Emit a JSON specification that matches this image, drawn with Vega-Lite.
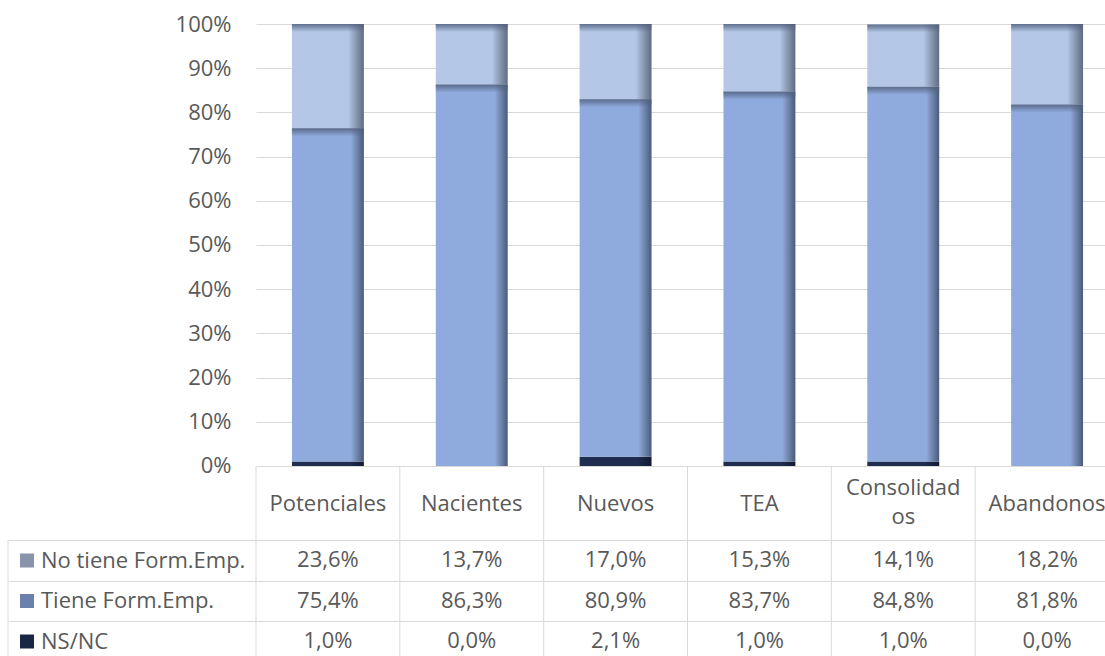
{
  "$schema": "https://vega.github.io/schema/vega-lite/v6.json",
  "width": 849,
  "height": 632,
  "autosize": "none",
  "padding": {"left": 256, "top": 24, "right": 0, "bottom": 0},
  "background": "white",
  "config": {"view": {"stroke": null}, "font": "Open Sans"},
  "data": {
    "values": [
      {"cat": "Potenciales", "serie": "No tiene Form.Emp.", "valor": 23.6},
      {"cat": "Potenciales", "serie": "Tiene Form.Emp.", "valor": 75.4},
      {"cat": "Potenciales", "serie": "NS/NC", "valor": 1.0},
      {"cat": "Nacientes", "serie": "No tiene Form.Emp.", "valor": 13.7},
      {"cat": "Nacientes", "serie": "Tiene Form.Emp.", "valor": 86.3},
      {"cat": "Nacientes", "serie": "NS/NC", "valor": 0.0},
      {"cat": "Nuevos", "serie": "No tiene Form.Emp.", "valor": 17.0},
      {"cat": "Nuevos", "serie": "Tiene Form.Emp.", "valor": 80.9},
      {"cat": "Nuevos", "serie": "NS/NC", "valor": 2.1},
      {"cat": "TEA", "serie": "No tiene Form.Emp.", "valor": 15.3},
      {"cat": "TEA", "serie": "Tiene Form.Emp.", "valor": 83.7},
      {"cat": "TEA", "serie": "NS/NC", "valor": 1.0},
      {"cat": "Consolidados", "serie": "No tiene Form.Emp.", "valor": 14.1},
      {"cat": "Consolidados", "serie": "Tiene Form.Emp.", "valor": 84.8},
      {"cat": "Consolidados", "serie": "NS/NC", "valor": 1.0},
      {"cat": "Abandonos", "serie": "No tiene Form.Emp.", "valor": 18.2},
      {"cat": "Abandonos", "serie": "Tiene Form.Emp.", "valor": 81.8},
      {"cat": "Abandonos", "serie": "NS/NC", "valor": 0.0}
    ]
  },
  "transform": [
    {"calculate": "indexof(['NS/NC','Tiene Form.Emp.','No tiene Form.Emp.'], datum.serie)", "as": "orden"},
    {"stack": "valor", "groupby": ["cat"], "sort": [{"field": "orden", "order": "ascending"}], "as": ["v0", "v1"]},
    {"calculate": "replace(format(datum.valor, '.1f'), '.', ',') + '%'", "as": "etiqueta"},
    {"calculate": "datum.cat === 'Consolidados' ? ['Consolidad', 'os'] : datum.cat", "as": "encab"}
  ],
  "encoding": {
    "x": {
      "field": "cat",
      "type": "nominal",
      "scale": {"domain": ["Potenciales", "Nacientes", "Nuevos", "TEA", "Consolidados", "Abandonos"], "range": [0, 863], "paddingInner": 0, "paddingOuter": 0},
      "axis": null
    }
  },
  "layer": [
    {
      "transform": [{"filter": "datum.serie === 'NS/NC'"}],
      "mark": {"type": "bar", "width": {"band": 0.5}, "color": {"gradient": "linear", "x1": 0, "y1": 0, "x2": 1, "y2": 0, "stops": [{"offset": 0, "color": "#1f2d50"}, {"offset": 0.8, "color": "#1f2d50"}, {"offset": 1, "color": "#111a30"}]}},
      "encoding": {
        "y": {
          "field": "v1", "type": "quantitative",
          "scale": {"domain": [-43, 100], "nice": false, "zero": false},
          "axis": {
            "title": null,
            "domain": false,
            "values": [0, 10, 20, 30, 40, 50, 60, 70, 80, 90, 100, -16.75, -26.03, -35.09],
            "labelExpr": "datum.value >= 0 ? datum.value + '%' : ''",
            "grid": true,
            "gridColor": "#d9d9d9",
            "gridWidth": 1,
            "ticks": true,
            "tickColor": "#d9d9d9",
            "tickWidth": 1,
            "tickSize": {"condition": {"test": "datum.value < 0", "value": 248}, "value": 0},
            "labelPadding": 25,
            "labelFontSize": 22,
            "labelColor": "#595959",
            "labelFont": "Open Sans"
          }
        },
        "y2": {"field": "v0"}
      }
    },
    {
      "transform": [{"filter": "datum.serie === 'Tiene Form.Emp.'"}],
      "mark": {"type": "bar", "width": {"band": 0.5}, "color": {"gradient": "linear", "x1": 0, "y1": 0, "x2": 1, "y2": 0, "stops": [{"offset": 0, "color": "#8faadc"}, {"offset": 0.82, "color": "#8faadc"}, {"offset": 1, "color": "#4b5a78"}]}},
      "encoding": {"y": {"field": "v1", "type": "quantitative", "title": null}, "y2": {"field": "v0"}}
    },
    {
      "transform": [{"filter": "datum.serie === 'No tiene Form.Emp.'"}],
      "mark": {"type": "bar", "width": {"band": 0.5}, "color": {"gradient": "linear", "x1": 0, "y1": 0, "x2": 1, "y2": 0, "stops": [{"offset": 0, "color": "#b4c7e7"}, {"offset": 0.78, "color": "#b4c7e7"}, {"offset": 1, "color": "#5f6b80"}]}},
      "encoding": {"y": {"field": "v1", "type": "quantitative", "title": null}, "y2": {"field": "v0"}}
    },
    {
      "transform": [{"filter": "datum.serie !== 'NS/NC'"}],
      "mark": {"type": "tick", "orient": "horizontal", "size": 72, "thickness": 8, "yOffset": 4, "opacity": 1, "color": {"gradient": "linear", "x1": 0, "y1": 0, "x2": 0, "y2": 1, "stops": [{"offset": 0, "color": "rgba(80,95,125,0.85)"}, {"offset": 1, "color": "rgba(80,95,125,0)"}]}},
      "encoding": {"y": {"field": "v1", "type": "quantitative", "title": null}}
    },
    {
      "transform": [{"filter": "datum.serie === 'NS/NC'"}],
      "mark": {"type": "rule", "color": "#d9d9d9", "strokeWidth": 1},
      "encoding": {"x": {"field": "cat", "type": "nominal", "bandPosition": 0}, "y": {"datum": 0}, "y2": {"datum": -43}}
    },
    {
      "transform": [{"filter": "datum.serie === 'NS/NC' && datum.cat === 'Potenciales'"}],
      "mark": {"type": "rule", "color": "#d9d9d9", "strokeWidth": 1, "xOffset": -248},
      "encoding": {"x": {"field": "cat", "type": "nominal", "bandPosition": 0}, "y": {"datum": -16.75}, "y2": {"datum": -43}}
    },
    {
      "transform": [{"filter": "datum.serie === 'NS/NC' && datum.cat !== 'Consolidados'"}],
      "mark": {"type": "text", "fontSize": 22, "color": "#595959", "baseline": "middle", "align": "center", "font": "Open Sans"},
      "encoding": {"text": {"field": "encab"}, "y": {"datum": -8.6}}
    },
    {
      "transform": [{"filter": "datum.serie === 'NS/NC' && datum.cat === 'Consolidados'"}],
      "mark": {"type": "text", "fontSize": 22, "color": "#595959", "baseline": "middle", "align": "center", "lineHeight": 29, "font": "Open Sans"},
      "encoding": {"text": {"field": "encab"}, "y": {"datum": -4.9}}
    },
    {
      "transform": [{"filter": "datum.serie === 'No tiene Form.Emp.'"}],
      "mark": {"type": "text", "fontSize": 22, "color": "#595959", "baseline": "middle", "align": "center", "font": "Open Sans"},
      "encoding": {"text": {"field": "etiqueta"}, "y": {"datum": -21.38}}
    },
    {
      "transform": [{"filter": "datum.serie === 'Tiene Form.Emp.'"}],
      "mark": {"type": "text", "fontSize": 22, "color": "#595959", "baseline": "middle", "align": "center", "font": "Open Sans"},
      "encoding": {"text": {"field": "etiqueta"}, "y": {"datum": -30.55}}
    },
    {
      "transform": [{"filter": "datum.serie === 'NS/NC'"}],
      "mark": {"type": "text", "fontSize": 22, "color": "#595959", "baseline": "middle", "align": "center", "font": "Open Sans"},
      "encoding": {"text": {"field": "etiqueta"}, "y": {"datum": -39.71}}
    },
    {
      "mark": {"type": "point", "filled": true, "opacity": 0},
      "encoding": {
        "y": {"datum": 0},
        "color": {
          "field": "serie", "type": "nominal",
          "scale": {"domain": ["No tiene Form.Emp.", "Tiene Form.Emp.", "NS/NC"], "range": ["#8794aa", "#6b80ad", "#1a2744"]},
          "legend": {
            "title": null,
            "orient": "none",
            "legendX": -240,
            "legendY": 525.5,
            "padding": 0,
            "symbolType": "square",
            "symbolSize": 196,
            "symbolOpacity": 1,
            "symbolStrokeWidth": 0,
            "labelFontSize": 22,
            "labelFont": "Open Sans",
            "labelColor": "#595959",
            "labelOffset": 3,
            "labelLimit": 300,
            "rowPadding": 18.5
          }
        }
      }
    }
  ]
}
